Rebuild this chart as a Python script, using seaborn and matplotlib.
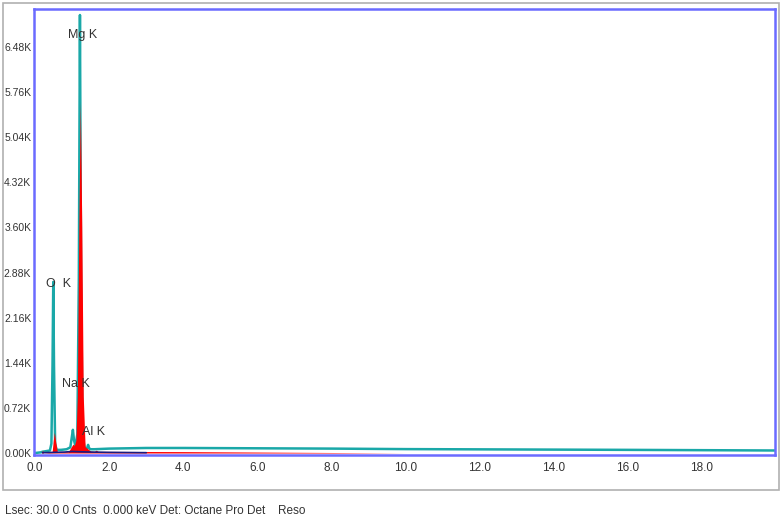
import matplotlib
matplotlib.use("Agg")
import matplotlib.pyplot as plt
from matplotlib.patches import Rectangle
import seaborn as sns
import pandas as pd

# measured spectrum (teal line)
energy_kev = [0.0, 0.15, 0.2, 0.3, 0.4, 0.44, 0.47, 0.49, 0.51, 0.54, 0.58, 0.7, 0.85,
              0.95, 0.99, 1.02, 1.05, 1.09, 1.14, 1.18, 1.21, 1.24, 1.28, 1.33, 1.38,
              1.41, 1.43, 1.45, 1.48, 1.6, 2.0, 3.0, 4.0, 6.0, 8.0, 10.0, 12.0, 14.0,
              16.0, 18.0, 20.0]
counts = [0, 10, 20, 30, 40, 150, 1400, 2730, 1400, 150, 50, 50, 60,
          90, 250, 370, 200, 110, 300, 2800, 6990, 2800, 300, 100, 60,
          90, 130, 90, 60, 60, 70, 80, 80, 75, 70, 62, 58, 54, 50, 45, 40]

# fitted spectrum (red fill)
fit_energy = [0.0, 0.17, 0.2, 0.23, 0.4, 0.46, 0.49, 0.52, 0.55, 0.6, 0.9, 0.98,
              1.02, 1.06, 1.1, 1.14, 1.18, 1.22, 1.26, 1.3, 1.35, 1.5, 1.6, 1.65,
              1.7, 2.0, 4.0, 6.0, 8.0, 10.0, 20.0]
fit_counts = [0, 0, 45, 0, 10, 20, 200, 330, 200, 20, 20, 100,
              140, 120, 200, 900, 3600, 5600, 3600, 900, 100, 30, 25, 45,
              25, 25, 22, 15, 8, 0, 0]

# baseline trace (blue)
base_energy = [0.2, 0.5, 0.8, 1.0, 1.2, 1.5, 2.0, 3.0]
base_counts = [5, 10, 15, 25, 20, 15, 10, 5]

peak_labels = ["Mg K", "O  K", "Na K", "Al K"]
label_x = [0.89, 0.30, 0.73, 1.27]
label_y = [6670, 2700, 1100, 335]

y_ticks = [0, 720, 1440, 2160, 2880, 3600, 4320, 5040, 5760, 6480]
y_tick_labels = ["0.00K", "0.72K", "1.44K", "2.16K", "2.88K", "3.60K", "4.32K",
                 "5.04K", "5.76K", "6.48K"]
x_ticks = [0, 2, 4, 6, 8, 10, 12, 14, 16, 18]
x_tick_labels = ["0.0", "2.0", "4.0", "6.0", "8.0", "10.0", "12.0", "14.0", "16.0", "18.0"]

sns.set_style("white")
plt.rcParams["font.family"] = ["Liberation Sans", "DejaVu Sans"]

fig = plt.figure(figsize=(7.82, 5.20), dpi=100)
ax = fig.add_axes([34 / 782, 1 - 455 / 520, 741 / 782, 446 / 520])

spec = pd.DataFrame({"energy": energy_kev, "counts": counts})
sns.lineplot(data=spec, x="energy", y="counts", color="#1aa8a8", linewidth=1.8,
             ax=ax, zorder=2, estimator=None, sort=False)
ax.fill_between(fit_energy, fit_counts, color="#ff0000", linewidth=0, zorder=3)
sns.lineplot(x=base_energy, y=base_counts, color="#1a1a80", linewidth=1.2, ax=ax, zorder=4)

for lab, lx, ly in zip(peak_labels, label_x, label_y):
    ax.text(lx, ly, lab, fontsize=9, color="#333333", va="center", ha="left", zorder=5)

ax.set_xlim(-0.03, 19.97)
ax.set_ylim(-32, 7086)
ax.set_xticks(x_ticks)
ax.set_xticklabels(x_tick_labels)
ax.set_yticks(y_ticks)
ax.set_yticklabels(y_tick_labels)
ax.set_xlabel("")
ax.set_ylabel("")
ax.tick_params(axis="x", labelsize=8.5, colors="#333333", length=3, width=1,
               direction="out", pad=2)
ax.tick_params(axis="y", labelsize=7.5, colors="#333333", length=1.5, width=1,
               direction="out", pad=0.5)
ax.tick_params(axis="both", color="#9999ff")
for s in ax.spines.values():
    s.set_color("#6b6bff")
    s.set_linewidth(1.8)

fig.patches.append(Rectangle((3 / 782, 1 - 490 / 520), 776 / 782, 487 / 520,
                             transform=fig.transFigure, fill=False,
                             edgecolor="#b0b0b0", linewidth=1.2, zorder=0))

fig.text(5 / 782, 1 - 511 / 520, "Lsec: 30.0 0 Cnts  0.000 keV Det: Octane Pro Det",
         fontsize=8.5, color="#333333", va="center")
fig.text(278 / 782, 1 - 511 / 520, "Reso", fontsize=8.5, color="#333333", va="center")

fig.savefig("out.png", dpi=100)
